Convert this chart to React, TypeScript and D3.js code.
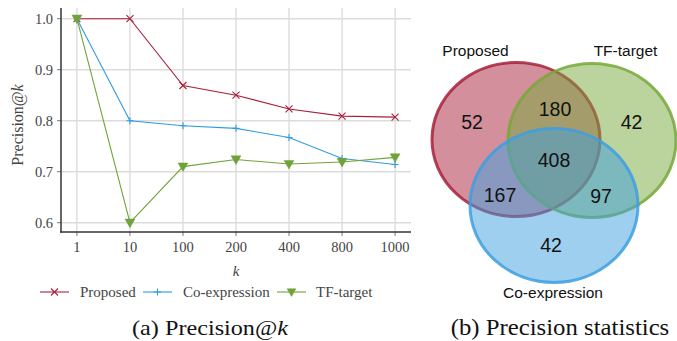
import React, { useEffect, useRef } from 'react';
import * as d3 from 'd3';

const kLabels = ['1', '10', '100', '200', '400', '800', '1000'];
const proposed = [1.0, 1.0, 0.869, 0.85, 0.823, 0.809, 0.807];
const coExpression = [1.0, 0.8, 0.79, 0.785, 0.767, 0.726, 0.714];
const tfTarget = [1.0, 0.6, 0.71, 0.724, 0.715, 0.719, 0.728];
const yTicks = [0.6, 0.7, 0.8, 0.9, 1.0];

const vennSets = ['Proposed', 'TF-target', 'Co-expression'];
const vennColors = ['#A8213A', '#77A83A', '#3D9FE0'];
const vennRegionLabels = ['52', '42', '42', '180', '167', '97', '408'];

const App: React.FC = () => {
    const svgRef = useRef<SVGSVGElement | null>(null);

    useEffect(() => {
        if (!svgRef.current) return;
        const svg = d3.select(svgRef.current);
        svg.selectAll('*').remove();

        const serif = '"Liberation Serif", "Times New Roman", serif';
        const sans = '"Liberation Sans", Arial, sans-serif';

        // ---- (a) line chart
        const margin = { left: 61, top: 8, right: 411, bottom: 232 };
        const x = d3.scalePoint<string>()
            .domain(kLabels)
            .range([margin.left, margin.right])
            .padding(0.3);
        const y = d3.scaleLinear()
            .domain([0.6, 1.0])
            .range([222.7, 18.7]);

        const g = svg.append('g');

        g.selectAll('.vgrid')
            .data(kLabels)
            .enter().append('line')
            .attr('x1', d => x(d)!)
            .attr('x2', d => x(d)!)
            .attr('y1', margin.top)
            .attr('y2', margin.bottom)
            .attr('stroke', '#d6d6d6')
            .attr('stroke-width', 1.2);

        g.selectAll('.hgrid')
            .data(yTicks)
            .enter().append('line')
            .attr('x1', margin.left)
            .attr('x2', margin.right)
            .attr('y1', d => y(d))
            .attr('y2', d => y(d))
            .attr('stroke', '#dcdcdc')
            .attr('stroke-width', 1.5);

        // ticks
        g.selectAll('.ytk')
            .data(yTicks)
            .enter().append('line')
            .attr('x1', margin.left - 4).attr('x2', margin.left)
            .attr('y1', d => y(d)).attr('y2', d => y(d))
            .attr('stroke', '#555').attr('stroke-width', 0.8);
        g.selectAll('.xtk')
            .data(kLabels)
            .enter().append('line')
            .attr('x1', d => x(d)!).attr('x2', d => x(d)!)
            .attr('y1', margin.bottom).attr('y2', margin.bottom + 4)
            .attr('stroke', '#555').attr('stroke-width', 0.8);

        // axes lines
        g.append('line')
            .attr('x1', margin.left).attr('x2', margin.left)
            .attr('y1', margin.top).attr('y2', margin.bottom + 0.75)
            .attr('stroke', '#333').attr('stroke-width', 1.5);
        g.append('line')
            .attr('x1', margin.left - 0.75).attr('x2', margin.right)
            .attr('y1', margin.bottom).attr('y2', margin.bottom)
            .attr('stroke', '#333').attr('stroke-width', 1.5);

        g.selectAll('.ytick')
            .data(yTicks)
            .enter().append('text')
            .attr('x', 53)
            .attr('y', d => y(d) + 5)
            .attr('text-anchor', 'end')
            .attr('font-family', serif)
            .attr('font-size', 14.5)
            .attr('fill', '#444')
            .text(d => d.toFixed(1));

        g.selectAll('.xtick')
            .data(kLabels)
            .enter().append('text')
            .attr('x', d => x(d)!)
            .attr('y', 252)
            .attr('text-anchor', 'middle')
            .attr('font-family', serif)
            .attr('font-size', 14.5)
            .attr('fill', '#444')
            .text(d => d);

        g.append('text')
            .attr('x', 236)
            .attr('y', 276)
            .attr('text-anchor', 'middle')
            .attr('font-family', serif)
            .attr('font-style', 'italic')
            .attr('font-size', 15)
            .attr('fill', '#444')
            .text('k');

        const yl = g.append('text')
            .attr('transform', 'translate(23,125) rotate(-90)')
            .attr('text-anchor', 'middle')
            .attr('font-family', serif)
            .attr('font-size', 16)
            .attr('fill', '#444');
        yl.append('tspan').text('Precision@');
        yl.append('tspan').attr('font-style', 'italic').text('k');

        const series = [
            { name: 'Proposed', values: proposed, color: '#A8213A', marker: 'x' },
            { name: 'Co-expression', values: coExpression, color: '#2E9BE0', marker: '+' },
            { name: 'TF-target', values: tfTarget, color: '#6FA33A', marker: 'v' },
        ];

        const line = d3.line<number>()
            .x((_, i) => x(kLabels[i])!)
            .y(d => y(d));

        const drawMarker = (sel: any, marker: string, color: string, cx: number, cy: number, s: number) => {
            if (marker === 'x') {
                sel.append('path')
                    .attr('d', `M${cx - s},${cy - s}L${cx + s},${cy + s}M${cx - s},${cy + s}L${cx + s},${cy - s}`)
                    .attr('stroke', color).attr('stroke-width', 1.1).attr('fill', 'none');
            } else if (marker === '+') {
                sel.append('path')
                    .attr('d', `M${cx - s},${cy}L${cx + s},${cy}M${cx},${cy - s}L${cx},${cy + s}`)
                    .attr('stroke', color).attr('stroke-width', 1.1).attr('fill', 'none');
            } else {
                sel.append('path')
                    .attr('d', `M${cx - s * 1.1},${cy - s * 0.8}L${cx + s * 1.1},${cy - s * 0.8}L${cx},${cy + s * 1.1}Z`)
                    .attr('fill', color).attr('stroke', color).attr('stroke-width', 0.5);
            }
        };

        series.forEach(s => {
            g.append('path')
                .datum(s.values)
                .attr('d', line)
                .attr('fill', 'none')
                .attr('stroke', s.color)
                .attr('stroke-width', 1.1);
            s.values.forEach((v, i) => {
                drawMarker(g, s.marker, s.color, x(kLabels[i])!, y(v), s.marker === 'v' ? 4.5 : 3.5);
            });
        });

        // legend
        const legendItems = [
            { lx: 40, tx: 80 },
            { lx: 143, tx: 183 },
            { lx: 277, tx: 316 },
        ];
        series.forEach((s, i) => {
            const ly = 292;
            const it = legendItems[i];
            g.append('line')
                .attr('x1', it.lx).attr('x2', it.lx + 29)
                .attr('y1', ly).attr('y2', ly)
                .attr('stroke', s.color).attr('stroke-width', 1.1);
            drawMarker(g, s.marker, s.color, it.lx + 14.5, ly, s.marker === 'v' ? 4 : 3.5);
            g.append('text')
                .attr('x', it.tx)
                .attr('y', ly + 5)
                .attr('font-family', serif)
                .attr('font-size', 15)
                .attr('fill', '#444')
                .text(s.name);
        });

        // captions (slightly widened like the source image)
        const cap = g.append('text')
            .attr('transform', 'translate(210,335) scale(1.1,1)')
            .attr('text-anchor', 'middle')
            .attr('font-family', serif)
            .attr('font-size', 22)
            .attr('fill', '#111');
        cap.append('tspan').text('(a) Precision@');
        cap.append('tspan').attr('font-style', 'italic').text('k');

        // ---- (b) Venn diagram
        const venn = svg.append('g');
        const ellipses = [
            { cx: 516, cy: 139.5 },
            { cx: 592, cy: 140.5 },
            { cx: 554, cy: 205.5 },
        ];
        ellipses.forEach((e, i) => {
            venn.append('ellipse')
                .attr('cx', e.cx).attr('cy', e.cy)
                .attr('rx', 84).attr('ry', 77)
                .attr('fill', vennColors[i])
                .attr('fill-opacity', 0.5)
                .attr('stroke', vennColors[i])
                .attr('stroke-opacity', 0.85)
                .attr('stroke-width', 3);
        });

        const regionPos = [
            [472, 122], [631.5, 122], [551, 245],
            [555, 109], [500, 195], [601, 196], [554, 160],
        ];
        vennRegionLabels.forEach((t, i) => {
            venn.append('text')
                .attr('x', regionPos[i][0])
                .attr('y', regionPos[i][1] + 7)
                .attr('text-anchor', 'middle')
                .attr('font-family', sans)
                .attr('font-size', 19.5)
                .attr('fill', '#111')
                .text(t);
        });

        const titlePos = [[475.5, 56], [625.5, 56], [553, 298]];
        vennSets.forEach((t, i) => {
            venn.append('text')
                .attr('x', titlePos[i][0])
                .attr('y', titlePos[i][1])
                .attr('text-anchor', 'middle')
                .attr('font-family', sans)
                .attr('font-size', 15.5)
                .attr('fill', '#111')
                .text(t);
        });

        svg.append('text')
            .attr('transform', 'translate(560,335) scale(1.1,1)')
            .attr('text-anchor', 'middle')
            .attr('font-family', serif)
            .attr('font-size', 22.5)
            .attr('fill', '#111')
            .text('(b) Precision statistics');
    }, []);

    return (
        <svg
            ref={svgRef}
            width={677}
            height={341}
            style={{ position: 'absolute', left: 0, top: 0, background: '#fff' }}
        />
    );
};

export default App;
